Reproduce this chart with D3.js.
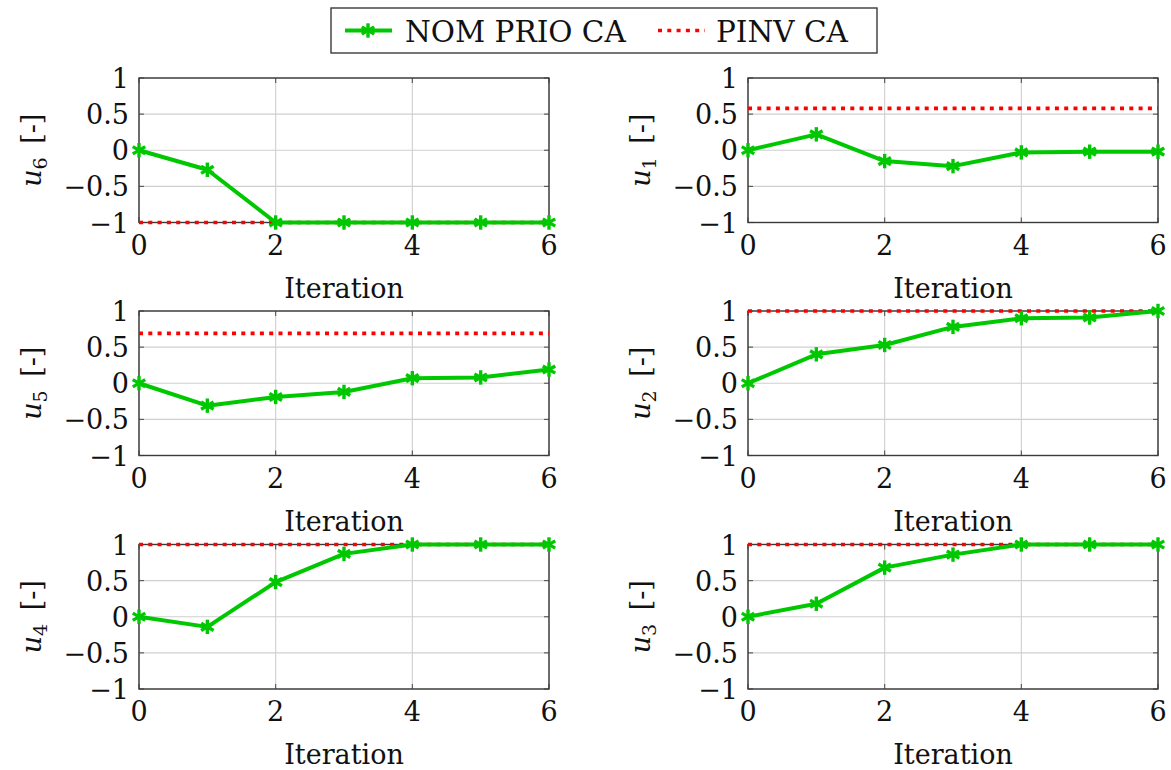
<!DOCTYPE html>
<html>
<head>
<meta charset="utf-8">
<script src="https://cdn.jsdelivr.net/npm/d3@7"></script>
<style>
  html, body { margin: 0; padding: 0; background: #fff; }
  svg { display: block; }
</style>
</head>
<body>
<svg id="chart" width="1171" height="770"></svg>
<script>
// Iteration axis shared by all panels
const iterations = [0, 1, 2, 3, 4, 5, 6];
const xTicks = [0, 2, 4, 6];
const yTicks = [-1, -0.5, 0, 0.5, 1];
const yTickLabels = ["\u22121", "\u22120.5", "0", "0.5", "1"];

// Panel order: row by row, left column then right column
const actuatorIndex = ["6", "1", "5", "2", "4", "3"];

// NOM PRIO CA trajectories per actuator
const nomU6 = [0, -0.27, -1, -1, -1, -1, -1];
const nomU1 = [0, 0.22, -0.15, -0.22, -0.03, -0.02, -0.02];
const nomU5 = [0, -0.31, -0.19, -0.12, 0.07, 0.08, 0.19];
const nomU2 = [0, 0.40, 0.53, 0.78, 0.90, 0.91, 1.0];
const nomU4 = [0, -0.14, 0.48, 0.87, 1, 1, 1];
const nomU3 = [0, 0.18, 0.68, 0.86, 1, 1, 1];
const nomSeries = [nomU6, nomU1, nomU5, nomU2, nomU4, nomU3];

// PINV CA constant solution per actuator
const pinvValues = [-1, 0.58, 0.69, 1, 1, 1];

const legendLabels = ["NOM PRIO CA", "PINV CA"];
const xLabel = "Iteration";

const GREEN = "#00c800";
const RED = "#ff0000";
const FAMILY = "'DejaVu Serif', 'Liberation Serif', serif";
const FONT = 27;

const svg = d3.select("#chart")
  .attr("font-family", FAMILY)
  .style("font-family", FAMILY);

const colLeft = [139, 748];
const rowTop = [78, 311, 544.5];
const plotW = 410;
const plotH = 144.5;

// six-spoke asterisk marker
function asterisk(g, cx, cy, r) {
  for (let k = 0; k < 3; k++) {
    const a = Math.PI / 2 + k * Math.PI / 3;
    g.append("line")
      .attr("x1", cx - r * Math.cos(a)).attr("y1", cy - r * Math.sin(a))
      .attr("x2", cx + r * Math.cos(a)).attr("y2", cy + r * Math.sin(a))
      .attr("stroke", GREEN).attr("stroke-width", 3.4).attr("stroke-linecap", "butt");
  }
}

nomSeries.forEach((vals, i) => {
  const col = i % 2, row = Math.floor(i / 2);
  const x0 = colLeft[col], y0 = rowTop[row];
  const x = d3.scaleLinear().domain([0, 6]).range([x0, x0 + plotW]);
  const y = d3.scaleLinear().domain([-1, 1]).range([y0 + plotH, y0]);
  const g = svg.append("g");

  // grid
  g.selectAll(".gx").data(xTicks).join("line")
    .attr("x1", d => x(d)).attr("x2", d => x(d))
    .attr("y1", y0).attr("y2", y0 + plotH)
    .attr("stroke", "#cfcfcf").attr("stroke-width", 1.1);
  g.selectAll(".gy").data(yTicks).join("line")
    .attr("x1", x0).attr("x2", x0 + plotW)
    .attr("y1", d => y(d)).attr("y2", d => y(d))
    .attr("stroke", "#cfcfcf").attr("stroke-width", 1.1);

  // inward ticks on all four sides
  const tl = 5;
  xTicks.forEach(t => {
    g.append("line").attr("x1", x(t)).attr("x2", x(t)).attr("y1", y0 + plotH).attr("y2", y0 + plotH - tl)
      .attr("stroke", "#555").attr("stroke-width", 1.1);
    g.append("line").attr("x1", x(t)).attr("x2", x(t)).attr("y1", y0).attr("y2", y0 + tl)
      .attr("stroke", "#555").attr("stroke-width", 1.1);
  });
  yTicks.forEach(t => {
    g.append("line").attr("x1", x0).attr("x2", x0 + tl).attr("y1", y(t)).attr("y2", y(t))
      .attr("stroke", "#555").attr("stroke-width", 1.1);
    g.append("line").attr("x1", x0 + plotW).attr("x2", x0 + plotW - tl).attr("y1", y(t)).attr("y2", y(t))
      .attr("stroke", "#555").attr("stroke-width", 1.1);
  });

  // frame
  g.append("rect").attr("x", x0).attr("y", y0).attr("width", plotW).attr("height", plotH)
    .attr("fill", "none").attr("stroke", "#3a3a3a").attr("stroke-width", 1.4);

  // tick labels
  g.selectAll(".tx").data(xTicks).join("text")
    .attr("x", d => x(d)).attr("y", y0 + plotH + 32)
    .attr("text-anchor", "middle").attr("font-size", FONT).attr("fill", "#111").text(d => d);
  g.selectAll(".ty").data(yTicks).join("text")
    .attr("x", x0 - 10).attr("y", d => y(d) + 10)
    .attr("text-anchor", "end").attr("font-size", FONT).attr("fill", "#111").text((d, j) => yTickLabels[j]);

  // axis titles
  g.append("text").attr("x", x0 + plotW / 2).attr("y", y0 + plotH + 75)
    .attr("text-anchor", "middle").attr("font-size", FONT).attr("fill", "#111").text(xLabel);
  const yl = g.append("text")
    .attr("transform", `translate(${x0 - 98},${y0 + plotH / 2}) rotate(-90)`)
    .attr("text-anchor", "middle").attr("font-size", FONT).attr("fill", "#111");
  yl.append("tspan").attr("font-style", "italic").text("u");
  yl.append("tspan").attr("font-size", 19).attr("dy", 6).text(actuatorIndex[i]);
  yl.append("tspan").attr("dy", -6).text("\u2002[-]");

  // PINV CA
  g.append("line")
    .attr("x1", x(0)).attr("x2", x(6))
    .attr("y1", y(pinvValues[i])).attr("y2", y(pinvValues[i]))
    .attr("stroke", RED).attr("stroke-width", 3.6).attr("stroke-dasharray", "4,5.3");

  // NOM PRIO CA
  const line = d3.line().x((d, j) => x(iterations[j])).y(d => y(d));
  g.append("path").datum(vals).attr("d", line)
    .attr("fill", "none").attr("stroke", GREEN).attr("stroke-width", 4).attr("stroke-linejoin", "round");
  vals.forEach((v, j) => asterisk(g, x(iterations[j]), y(v), 7.2));
});

// legend
const lg = svg.append("g");
lg.append("rect").attr("x", 331).attr("y", 8).attr("width", 546).attr("height", 45)
  .attr("fill", "#fff").attr("stroke", "#3a3a3a").attr("stroke-width", 1.4);
lg.append("line").attr("x1", 345).attr("x2", 392).attr("y1", 30.5).attr("y2", 30.5)
  .attr("stroke", GREEN).attr("stroke-width", 4);
asterisk(lg, 368, 30.5, 7.2);
lg.append("text").attr("x", 405).attr("y", 41.5).attr("font-size", 29.5).attr("fill", "#111").text(legendLabels[0]);
lg.append("line").attr("x1", 658).attr("x2", 705).attr("y1", 30.5).attr("y2", 30.5)
  .attr("stroke", RED).attr("stroke-width", 3.6).attr("stroke-dasharray", "4,5.3");
lg.append("text").attr("x", 716).attr("y", 41.5).attr("font-size", 29.5).attr("fill", "#111").text(legendLabels[1]);
</script>
</body>
</html>
